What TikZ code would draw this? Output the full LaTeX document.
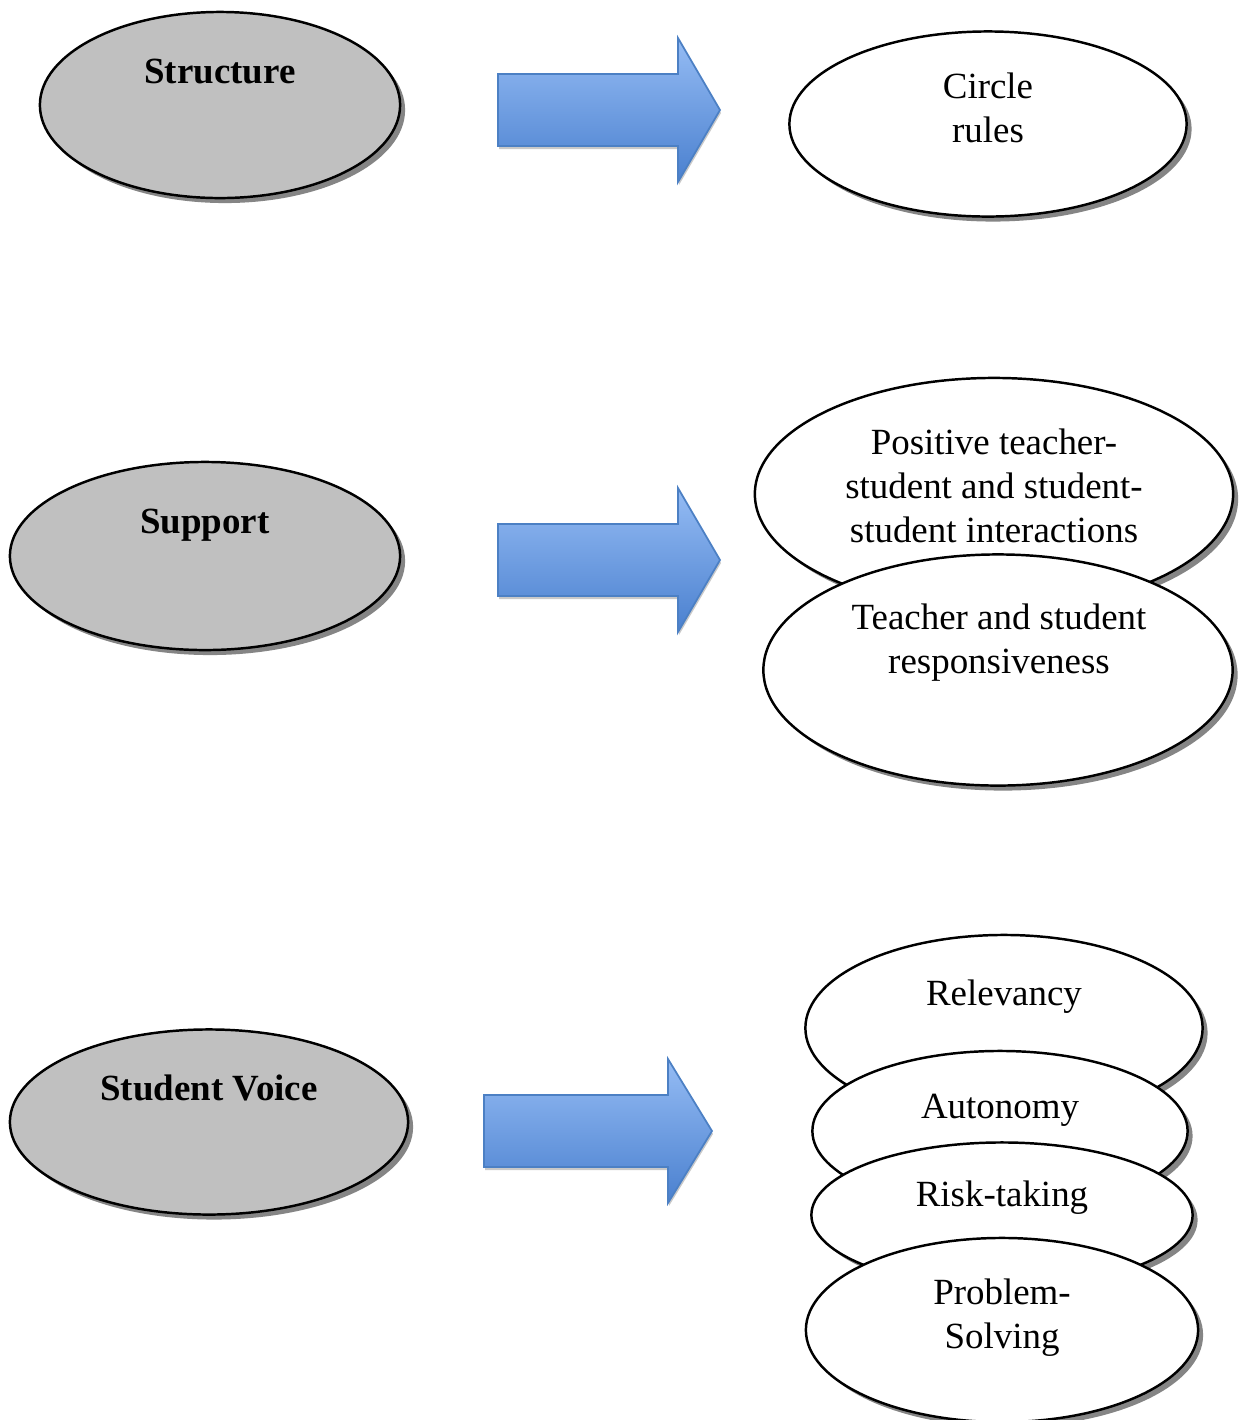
\documentclass[tikz,border=0pt]{standalone}
\usepackage{fontspec}
\setmainfont{Liberation Serif}
\usetikzlibrary{shapes.geometric,shadows}
\definecolor{silver}{HTML}{C0C0C0}
\definecolor{arrowtop}{HTML}{95BCF4}
\definecolor{arrowbot}{HTML}{4A80CF}
\definecolor{arrowline}{HTML}{4C80C4}
\tikzset{
  bubble/.style={ellipse,draw,line width=0.7pt,fill=white,inner sep=0pt,
    drop shadow={shadow xshift=0.05cm,shadow yshift=-0.05cm,fill=black!60,opacity=0.8}},
  topic/.style={bubble,fill=silver},
  lbl/.style={align=center,anchor=base,inner sep=0pt,font=\fontsize{10.5pt}{12.4pt}\selectfont},
  toplbl/.style={lbl,font=\fontsize{10.5pt}{12.4pt}\selectfont\bfseries},
  bigarrow/.style={draw=arrowline,line width=0.5pt,line join=miter,top color=arrowtop,bottom color=arrowbot,
    drop shadow={shadow xshift=0.01cm,shadow yshift=-0.03cm,fill=gray!60,opacity=0.7}}
}
\begin{document}
\begin{tikzpicture}[x=0.01cm,y=-0.01cm]
\useasboundingbox (0,0) rectangle (1240,1420);
% left column
\node[topic,minimum width=3.6cm,minimum height=1.86cm] (struct) at (220,105) {};
\node[toplbl] (structtxt) at (220,83) {Structure};
\node[topic,minimum width=3.9cm,minimum height=1.88cm] (supp) at (205,556) {};
\node[toplbl] (supptxt) at (205,533) {Support};
\node[topic,minimum width=3.98cm,minimum height=1.85cm] (voice) at (209,1122) {};
\node[toplbl] (voicetxt) at (209,1100) {Student Voice};
% arrows
\foreach \a/\b/\c/\y in {498/678/720/110, 498/678/720/560, 484/668/712/1131}
  \draw[bigarrow] (\a,\y-36) -- (\b,\y-36) -- (\b,\y-72) -- (\c,\y) -- (\b,\y+72) -- (\b,\y+36) -- (\a,\y+36) -- cycle;
% right column (text anchored on the last line)
\node[bubble,minimum width=3.97cm,minimum height=1.85cm] (rules) at (988,124) {};
\node[lbl] (rulestxt) at (988,142) {Circle\\rules};
\node[bubble,minimum width=4.78cm,minimum height=2.32cm] (inter) at (994,494) {};
\node[lbl] (intertxt) at (994,542) {Positive teacher-\\student and student-\\student interactions};
\node[bubble,minimum width=4.69cm,minimum height=2.31cm] (resp) at (998,670) {};
\node[lbl] (resptxt) at (999,673) {Teacher and student\\responsiveness};
\node[bubble,minimum width=3.97cm,minimum height=1.86cm] (relev) at (1004,1028) {};
\node[lbl] (relevtxt) at (1004,1005) {Relevancy};
\node[bubble,minimum width=3.75cm,minimum height=1.6cm] (auton) at (1000,1131) {};
\node[lbl] (autontxt) at (1000,1118) {Autonomy};
\node[bubble,minimum width=3.81cm,minimum height=1.45cm] (risk) at (1002,1215) {};
\node[lbl] (risktxt) at (1002,1206) {Risk-taking};
\node[bubble,minimum width=3.92cm,minimum height=1.84cm] (probl) at (1002,1330) {};
\node[lbl] (probltxt) at (1002,1348) {Problem-\\Solving};
\end{tikzpicture}
\end{document}
